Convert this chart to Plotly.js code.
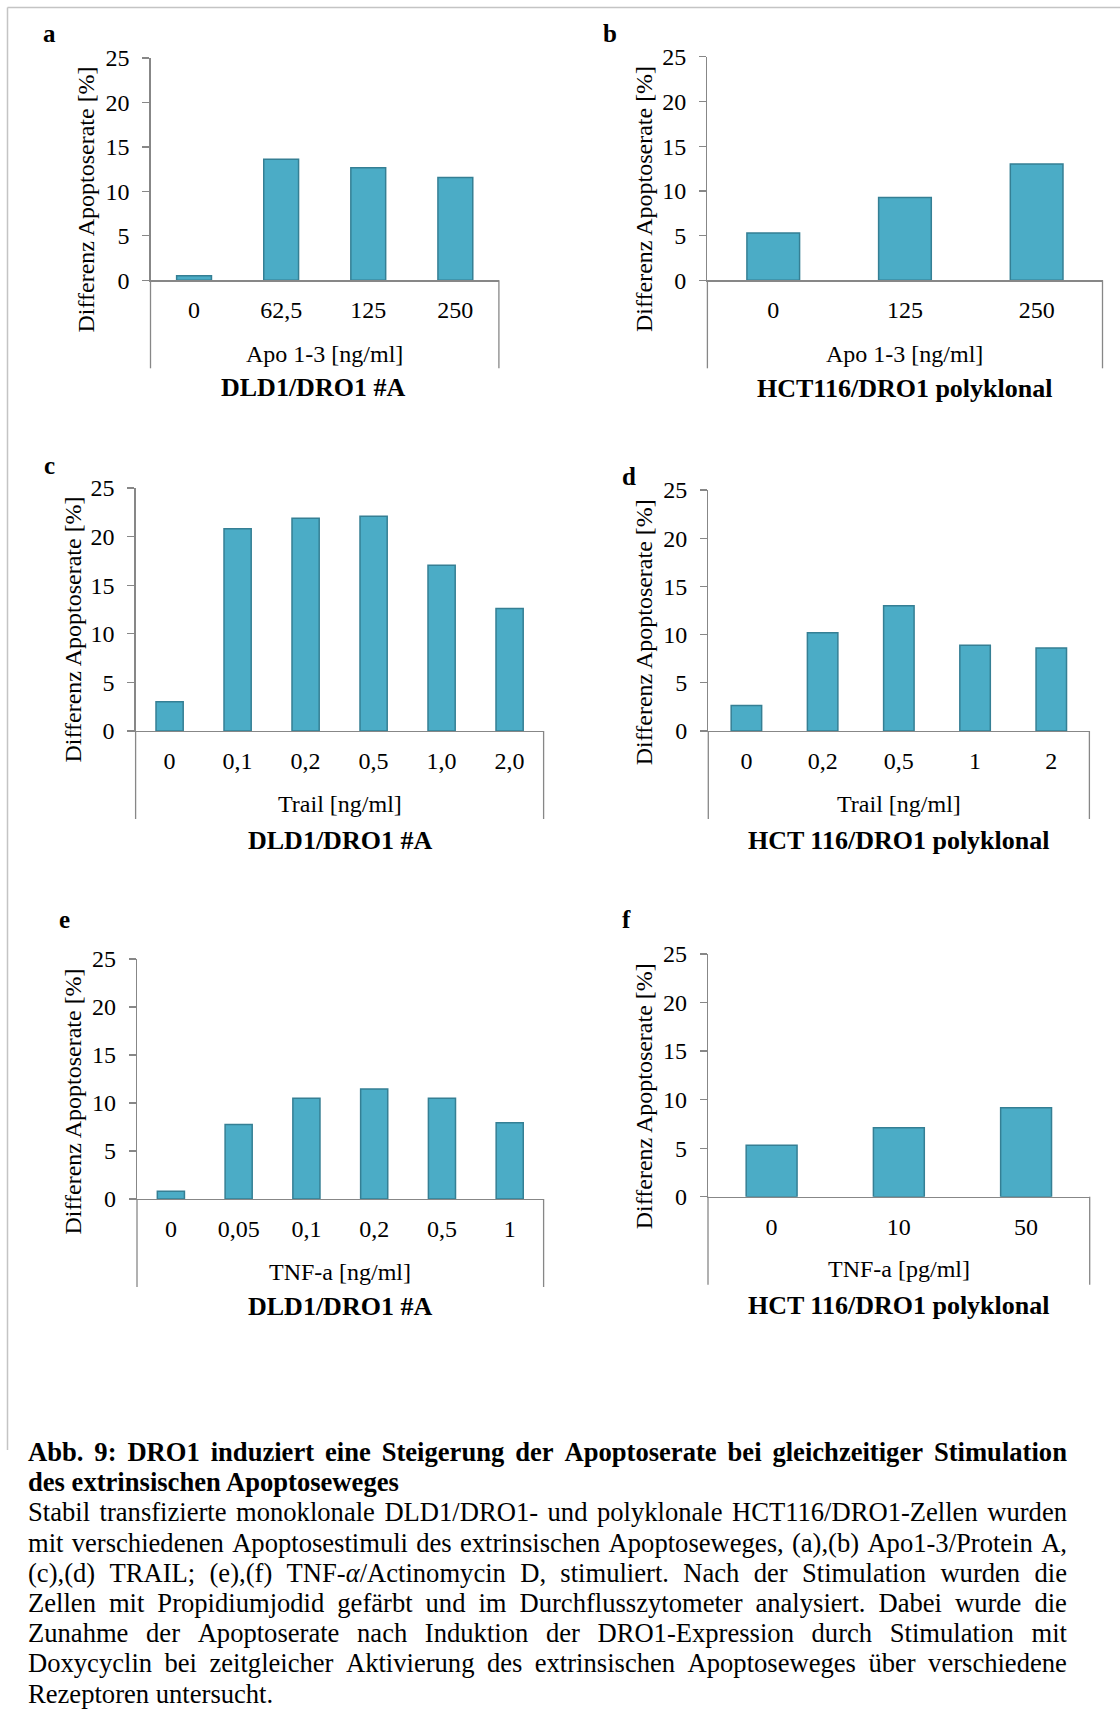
<!DOCTYPE html>
<html>
<head>
<meta charset="utf-8">
<script src="https://cdn.plot.ly/plotly-3.0.1.min.js"></script>
<style>
  html, body { margin: 0; padding: 0; background: #ffffff; }
  #wrap { position: relative; width: 1120px; height: 1711px; overflow: hidden; }
  #chart { position: absolute; left: 0; top: 0; width: 1120px; height: 1711px; }
  #caption {
    position: absolute; left: 28px; top: 1437px; width: 1039px;
    font-family: "Liberation Serif", "Times New Roman", serif;
    font-size: 26.6px; line-height: 30.2px; color: #000;
  }
  #caption .j { display: flex; justify-content: space-between; white-space: nowrap; }
  #caption .l { text-align: left; white-space: nowrap; }
  #caption .b { font-weight: bold; }
</style>
</head>
<body>
<div id="wrap">
  <div id="chart"></div>
  <div id="caption"></div>
</div>
<script>
// ---------------- DATA ----------------
const catsA = ['0', '62,5', '125', '250'];
const valsA = [0.5, 13.6, 12.65, 11.55];

const catsB = ['0', '125', '250'];
const valsB = [5.3, 9.25, 13.0];

const catsC = ['0', '0,1', '0,2', '0,5', '1,0', '2,0'];
const valsC = [3.0, 20.8, 21.9, 22.1, 17.05, 12.6];

const catsD = ['0', '0,2', '0,5', '1', '2'];
const valsD = [2.65, 10.2, 13.0, 8.9, 8.6];

const catsE = ['0', '0,05', '0,1', '0,2', '0,5', '1'];
const valsE = [0.8, 7.75, 10.5, 11.45, 10.5, 7.95];

const catsF = ['0', '10', '50'];
const valsF = [5.3, 7.1, 9.15];

const yTitle = 'Differenz Apoptoserate [%]';
const xTitles = ['Apo 1-3 [ng/ml]', 'Apo 1-3 [ng/ml]', 'Trail [ng/ml]', 'Trail [ng/ml]', 'TNF-a [ng/ml]', 'TNF-a [pg/ml]'];
const subTitles = ['DLD1/DRO1 #A', 'HCT116/DRO1 polyklonal', 'DLD1/DRO1 #A', 'HCT 116/DRO1 polyklonal', 'DLD1/DRO1 #A', 'HCT 116/DRO1 polyklonal'];
const letters = ['a', 'b', 'c', 'd', 'e', 'f'];
const yTicks = [0, 5, 10, 15, 20, 25];

const captionLines = [
  'Abb. 9: DRO1 induziert eine Steigerung der Apoptoserate bei gleichzeitiger Stimulation',
  'des extrinsischen Apoptoseweges',
  'Stabil transfizierte monoklonale DLD1/DRO1- und polyklonale HCT116/DRO1-Zellen wurden',
  'mit verschiedenen Apoptosestimuli des extrinsischen Apoptoseweges, (a),(b) Apo1-3/Protein A,',
  '(c),(d) TRAIL; (e),(f) TNF-<i>α</i>/Actinomycin D, stimuliert. Nach der Stimulation wurden die',
  'Zellen mit Propidiumjodid gefärbt und im Durchflusszytometer analysiert. Dabei wurde die',
  'Zunahme der Apoptoserate nach Induktion der DRO1-Expression durch Stimulation mit',
  'Doxycyclin bei zeitgleicher Aktivierung des extrinsischen Apoptoseweges über verschiedene',
  'Rezeptoren untersucht.'
];
const captionBold = [true, true, false, false, false, false, false, false, false];
const captionJustify = [true, false, true, true, true, true, true, true, false];

// ---------------- CAPTION ----------------
const cap = document.getElementById('caption');
captionLines.forEach((t, i) => {
  const d = document.createElement('div');
  d.className = (captionJustify[i] ? 'j' : 'l') + (captionBold[i] ? ' b' : '');
  if (captionJustify[i]) {
    d.innerHTML = t.split(' ').map(w => '<span>' + w + '</span>').join(' ');
  } else {
    d.innerHTML = t;
  }
  cap.appendChild(d);
});

// ---------------- GEOMETRY / STYLE ----------------
const W = 1120, H = 1711;
const PX = v => v / W;
const PY = v => 1 - v / H;

const geo = [
  {x0: 150.5, x1: 498.9, top: 57.9, bot: 280.3, yt: [85.5, 200], xt: 353.5, st: [313, 387], lt: [49, 33.5]},
  {x0: 707.4, x1: 1102.5, top: 56.8, bot: 280.3, yt: [644, 199], xt: 353.5, st: [904, 388], lt: [610, 33.5]},
  {x0: 135.6, x1: 543.6, top: 488.0, bot: 731.0, yt: [72.5, 630], xt: 804, st: [340, 840], lt: [49, 465]},
  {x0: 708.3, x1: 1089.4, top: 490.0, bot: 731.0, yt: [644.3, 632], xt: 804, st: [899, 840.5], lt: [629, 476.5]},
  {x0: 137.0, x1: 543.6, top: 959.0, bot: 1199.0, yt: [72.5, 1102], xt: 1272, st: [340, 1306.7], lt: [64, 920]},
  {x0: 708.0, x1: 1089.7, top: 954.0, bot: 1196.7, yt: [644.3, 1096], xt: 1269, st: [899, 1305], lt: [626, 920]}
];

const FONT = 'Liberation Serif, Times New Roman, serif';
const AXIS_COL = '#878787';
const BAR_FILL = '#4BACC6';
const BAR_LINE = '#357F94';

const series = [
  [catsA, valsA], [catsB, valsB], [catsC, valsC],
  [catsD, valsD], [catsE, valsE], [catsF, valsF]
];

const data = [];
const layout = {
  width: W, height: H,
  margin: {l: 0, r: 0, t: 0, b: 0},
  paper_bgcolor: '#ffffff', plot_bgcolor: 'rgba(0,0,0,0)',
  showlegend: false,
  bargap: 0.6,
  font: {family: FONT, size: 24, color: '#000000'},
  annotations: [],
  shapes: []
};

series.forEach((s, i) => {
  const g = geo[i];
  const n = i + 1;
  const xa = 'xaxis' + (n === 1 ? '' : n);
  const ya = 'yaxis' + (n === 1 ? '' : n);
  const xr = 'x' + (n === 1 ? '' : n);
  const yr = 'y' + (n === 1 ? '' : n);

  data.push({
    type: 'bar', x: s[0], y: s[1], xaxis: xr, yaxis: yr,
    marker: {color: BAR_FILL, line: {color: BAR_LINE, width: 1.5}},
    hoverinfo: 'skip'
  });

  layout[xa] = {
    domain: [PX(g.x0), PX(g.x1)], anchor: yr, type: 'category',
    range: [-0.5, s[0].length - 0.5],
    showline: true, linecolor: AXIS_COL, linewidth: 1.3,
    ticks: 'outside', ticklen: 8, tickwidth: 1, tickcolor: 'rgba(0,0,0,0)',
    showgrid: false, zeroline: false,
    tickfont: {family: FONT, size: 24, color: '#000'},
    fixedrange: true
  };
  layout[ya] = {
    domain: [PY(g.bot), PY(g.top)], anchor: xr,
    range: [0, 25], tickvals: yTicks, ticktext: yTicks.map(String),
    showline: true, linecolor: AXIS_COL, linewidth: 1.3,
    ticks: 'outside', ticklen: 7, tickwidth: 1.3, tickcolor: AXIS_COL,
    showgrid: false, zeroline: false,
    tickfont: {family: FONT, size: 24, color: '#000'},
    ticklabelstandoff: 8, fixedrange: true
  };

  [g.x0, g.x1].forEach(xx => {
    layout.shapes.push({
      type: 'line', xref: 'paper', yref: 'paper',
      x0: PX(xx), x1: PX(xx), y0: PY(g.bot), y1: PY(g.bot + 88),
      line: {color: AXIS_COL, width: 1.3}
    });
  });

  layout.annotations.push({
    xref: 'paper', yref: 'paper', x: PX(g.yt[0]), y: PY(g.yt[1]),
    text: yTitle, textangle: -90, showarrow: false,
    xanchor: 'center', yanchor: 'middle',
    font: {family: FONT, size: 24, color: '#000'}
  });
  layout.annotations.push({
    xref: 'paper', yref: 'paper', x: PX((g.x0 + g.x1) / 2), y: PY(g.xt),
    text: xTitles[i], showarrow: false, xanchor: 'center', yanchor: 'middle',
    font: {family: FONT, size: 24, color: '#000'}
  });
  layout.annotations.push({
    xref: 'paper', yref: 'paper', x: PX(g.st[0]), y: PY(g.st[1]),
    text: '<b>' + subTitles[i] + '</b>', showarrow: false, xanchor: 'center', yanchor: 'middle',
    font: {family: FONT, size: 26, color: '#000'}
  });
  layout.annotations.push({
    xref: 'paper', yref: 'paper', x: PX(g.lt[0]), y: PY(g.lt[1]),
    text: '<b>' + letters[i] + '</b>', showarrow: false, xanchor: 'center', yanchor: 'middle',
    font: {family: FONT, size: 25, color: '#000'}
  });
});

layout.shapes.push({
  type: 'line', xref: 'paper', yref: 'paper',
  x0: PX(7.5), x1: 1, y0: PY(7.5), y1: PY(7.5),
  line: {color: '#C4C4C4', width: 1.5}
});
layout.shapes.push({
  type: 'line', xref: 'paper', yref: 'paper',
  x0: PX(7.5), x1: PX(7.5), y0: PY(7.5), y1: PY(1450),
  line: {color: '#C4C4C4', width: 1.5}
});

Plotly.newPlot('chart', data, layout, {staticPlot: true, displayModeBar: false});
</script>
</body>
</html>
